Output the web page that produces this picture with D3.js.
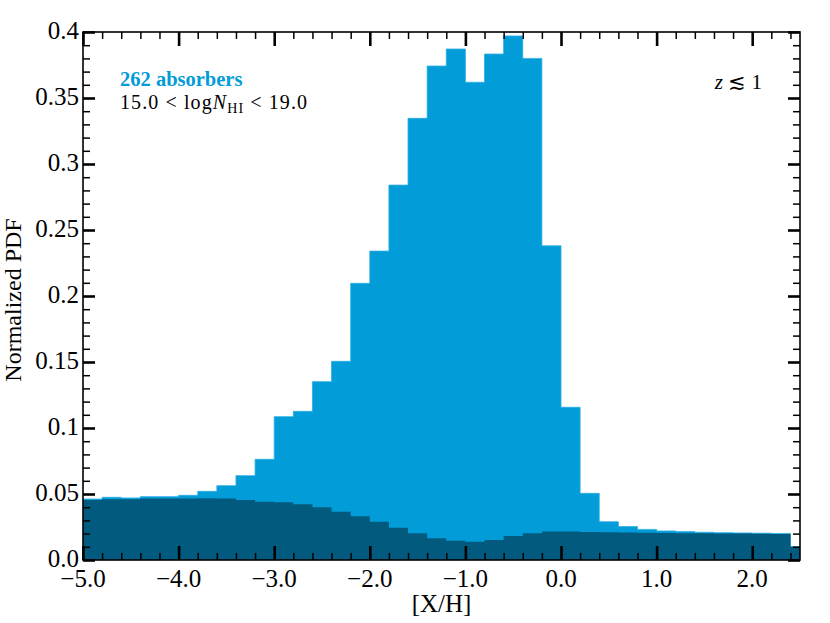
<!DOCTYPE html>
<html>
<head>
<meta charset="utf-8">
<script src="https://cdn.jsdelivr.net/npm/d3@7"></script>
<style>
  html, body { margin: 0; padding: 0; background: #fff; overflow: hidden; }
  svg { display: block; }
  text { font-family: "Liberation Serif", "DejaVu Serif", serif; fill: #000; }
</style>
</head>
<body>
<div id="chart"></div>
<script>
// bin left edges, width 0.2
const binStart = -5.0;
const binWidth = 0.2;

// all absorbers in the range (light)
const allPdf = [0.0462, 0.0475, 0.0470, 0.0480, 0.0480, 0.0490, 0.0520, 0.0563, 0.0639, 0.0763,
  0.1086, 0.1126, 0.1351, 0.1505, 0.2096, 0.2340, 0.2840, 0.3346, 0.3742, 0.3871,
  0.3619, 0.3833, 0.3970, 0.3800, 0.2380, 0.1157, 0.0505, 0.0290, 0.0253, 0.0232,
  0.0220, 0.0215, 0.0210, 0.0207, 0.0205, 0.0203, 0.0201, 0.0102];

// background / prior (dark)
const priorPdf = [0.0455, 0.0460, 0.0460, 0.0465, 0.0465, 0.0465, 0.0467, 0.0465, 0.0455, 0.0442,
  0.0437, 0.0422, 0.0399, 0.0366, 0.0331, 0.0290, 0.0245, 0.0202, 0.0164, 0.0146,
  0.0139, 0.0152, 0.0182, 0.0202, 0.0215, 0.0215, 0.0212, 0.0210, 0.0208, 0.0206,
  0.0205, 0.0203, 0.0202, 0.0201, 0.0200, 0.0199, 0.0197, 0.0100];

const xTicks = [-5, -4, -3, -2, -1, 0, 1, 2];
const yTicks = [0, 0.05, 0.1, 0.15, 0.2, 0.25, 0.3, 0.35, 0.4];
const yTickLabels = ["0.0", "0.05", "0.1", "0.15", "0.2", "0.25", "0.3", "0.35", "0.4"];

const width = 830, height = 623;
const margin = { top: 32, right: 30, bottom: 63, left: 83 };
const innerWidth = width - margin.left - margin.right;
const innerHeight = height - margin.top - margin.bottom;

const svg = d3.select("#chart")
  .append("svg")
  .attr("width", width)
  .attr("height", height);

const inner = svg.append("g")
  .attr("transform", `translate(${margin.left}, ${margin.top})`);

const xScale = d3.scaleLinear().domain([-5, 2.5]).range([0, innerWidth]);
const yScale = d3.scaleLinear().domain([0, 0.4]).range([innerHeight, 0]);

svg.append("defs").append("clipPath")
  .attr("id", "plotclip")
  .append("rect")
  .attr("width", innerWidth)
  .attr("height", innerHeight);

// step-filled histograms
const toSteps = vals => {
  const pts = vals.map((v, i) => [binStart + i * binWidth, v]);
  pts.push([binStart + vals.length * binWidth, vals[vals.length - 1]]);
  return pts;
};

const area = d3.area()
  .curve(d3.curveStepAfter)
  .x(d => xScale(d[0]))
  .y0(yScale(0))
  .y1(d => yScale(d[1]));

const hist = inner.append("g").attr("clip-path", "url(#plotclip)");

hist.append("path")
  .datum(toSteps(allPdf))
  .attr("d", area)
  .attr("fill", "#029cd9")
  .attr("stroke", "#2aaee3")
  .attr("stroke-width", 0.8);

hist.append("path")
  .datum(toSteps(priorPdf))
  .attr("d", area)
  .attr("fill", "#025b7e");

// ticks (inward, mirrored on all sides)
const xMinor = d3.range(-50, 26, 2).map(d => d / 10).filter(d => !xTicks.includes(d));
const yMinor = d3.range(0, 41).map(d => d / 100).filter(d => !yTicks.some(t => Math.abs(t - d) < 1e-9));

const axisG = inner.append("g");

const addTicks = (axisFn, scale, values, size, sw, transform) => {
  const g = axisG.append("g")
    .attr("transform", transform)
    .call(axisFn(scale).tickValues(values).tickSize(size).tickFormat(""));
  g.select(".domain").remove();
  g.selectAll("line").attr("stroke", "#000").attr("stroke-width", sw);
};

addTicks(d3.axisTop, xScale, xTicks, 14, 2.6, `translate(0, ${innerHeight})`);
addTicks(d3.axisTop, xScale, xMinor, 7, 1.5, `translate(0, ${innerHeight})`);
addTicks(d3.axisBottom, xScale, xTicks, 14, 2.6, "translate(0, 0)");
addTicks(d3.axisBottom, xScale, xMinor, 7, 1.5, "translate(0, 0)");
addTicks(d3.axisRight, yScale, yTicks, 12, 2.6, "translate(0, 0)");
addTicks(d3.axisRight, yScale, yMinor, 7, 1.5, "translate(0, 0)");
addTicks(d3.axisLeft, yScale, yTicks, 12, 2.6, `translate(${innerWidth}, 0)`);
addTicks(d3.axisLeft, yScale, yMinor, 7, 1.5, `translate(${innerWidth}, 0)`);

// frame
inner.append("rect")
  .attr("width", innerWidth)
  .attr("height", innerHeight)
  .attr("fill", "none")
  .attr("stroke", "#000")
  .attr("stroke-width", 1.6);

// tick labels
inner.selectAll(".xlab")
  .data(xTicks)
  .enter()
  .append("text")
  .attr("class", "xlab")
  .attr("x", d => xScale(d))
  .attr("y", innerHeight + 27)
  .attr("text-anchor", "middle")
  .attr("font-size", 25)
  .text(d => d3.format(".1f")(d).replace("-", "\u2212"));

inner.selectAll(".ylab")
  .data(yTicks)
  .enter()
  .append("text")
  .attr("class", "ylab")
  .attr("x", -4)
  .attr("y", d => yScale(d) + 7)
  .attr("text-anchor", "end")
  .attr("font-size", 25)
  .text((d, i) => yTickLabels[i]);

// axis titles
svg.append("text")
  .attr("x", margin.left + innerWidth / 2)
  .attr("y", 612)
  .attr("text-anchor", "middle")
  .attr("font-size", 25)
  .text("[X/H]");

svg.append("text")
  .attr("transform", "rotate(-90)")
  .attr("x", -300)
  .attr("y", 21)
  .attr("text-anchor", "middle")
  .attr("font-size", 24)
  .text("Normalized PDF");

// annotations
svg.append("text")
  .attr("x", 120)
  .attr("y", 86)
  .attr("font-size", 20.5)
  .attr("font-weight", "bold")
  .style("fill", "#029cd9")
  .text("262 absorbers");

const nText = svg.append("text")
  .attr("x", 120)
  .attr("y", 109)
  .attr("font-size", 20)
  .attr("textLength", 187)
  .attr("lengthAdjust", "spacing");
nText.append("tspan").text("15.0 < log");
nText.append("tspan").attr("font-style", "italic").text("N");
nText.append("tspan").attr("font-size", 14).attr("dy", 4).text("HI");
nText.append("tspan").attr("dy", -4).text(" < 19.0");

const zText = svg.append("text")
  .attr("x", 762)
  .attr("y", 89)
  .attr("text-anchor", "end")
  .attr("font-size", 21);
zText.append("tspan").attr("font-style", "italic").text("z");
zText.append("tspan").text(" \u2272 1");
</script>
</body>
</html>
